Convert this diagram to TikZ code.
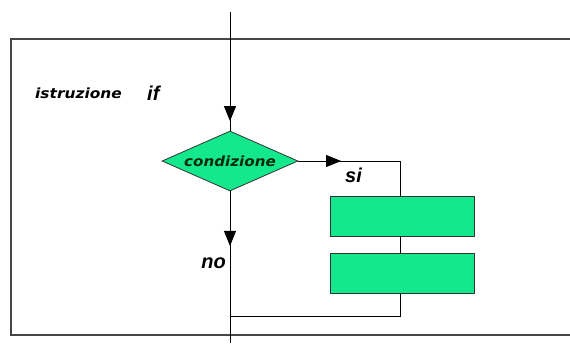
\documentclass[tikz,border=0pt]{standalone}
\usepackage{fontspec}
\usepackage{graphicx}
\setmainfont{Liberation Sans}
\newfontfamily\comicf{DejaVu Sans}
\usetikzlibrary{shapes.geometric,arrows.meta,decorations.markings}
\definecolor{boxgreen}{RGB}{20,232,140}
\definecolor{txtdark}{RGB}{10,40,10}
\definecolor{framegray}{RGB}{70,70,70}
\tikzset{
  conn/.style={draw=black,line width=0.9pt},
  midarrow/.style={postaction={decorate},decoration={markings,mark=at position #1 with {\arrow{Triangle[width=12pt,length=15pt]}}}},
  stmt/.style={draw=black!80,fill=boxgreen,line width=0.9pt,minimum width=144pt,minimum height=40pt,inner sep=0pt},
  cond/.style={diamond,aspect=2.27,draw=black!80,fill=boxgreen,line width=0.8pt,minimum width=136pt,minimum height=60pt,inner sep=0pt,font=\comicf\itshape\bfseries\fontsize{14}{16}\selectfont,text=txtdark},
  lbl/.style={font=\bfseries\itshape\fontsize{20}{24}\selectfont,inner sep=0pt},
  smalllbl/.style={font=\comicf\itshape\bfseries\fontsize{14}{16}\selectfont,inner sep=0pt}
}
\begin{document}
\begin{tikzpicture}[x=1pt,y=-1pt]
\useasboundingbox (0,0) rectangle (570,343);
% frame
\draw[framegray,line width=1.3pt] (570,39) -- (11,39) -- (11,335) -- (570,335);
% nodes
\node[cond] (d) at (230,161) {\scalebox{1.08}[1]{condizione}};
\node[stmt] (b1) at (402,216) {};
\node[stmt] (b2) at (402,273.5) {};
\coordinate (top) at (230,12);
\coordinate (c1) at (400,161);
\coordinate (j) at (230,316);
\coordinate (bot) at (230,343);
% labels
\node[smalllbl,anchor=base west] (ist) at (35,98) {\scalebox{1.1}[1]{istruzione}};
\node[lbl,anchor=base west] (iff) at (147,100) {if};
\node[lbl,anchor=base west] (si) at (345,182) {si};
\node[lbl,anchor=base east] (no) at (226,268) {no};
% connectors
\draw[conn,midarrow=0.92] (top) -- (d.north);
\draw[conn,midarrow=0.42] (d.east) -- (c1);
\draw[conn] (c1) -- (c1 |- b1.north);
\draw[conn] (c1 |- b1.south) -- (c1 |- b2.north);
\draw[conn] (c1 |- b2.south) -- (c1 |- j) -- (j);
\draw[conn,midarrow=0.36] (d.south) -- (bot);
\end{tikzpicture}
\end{document}
